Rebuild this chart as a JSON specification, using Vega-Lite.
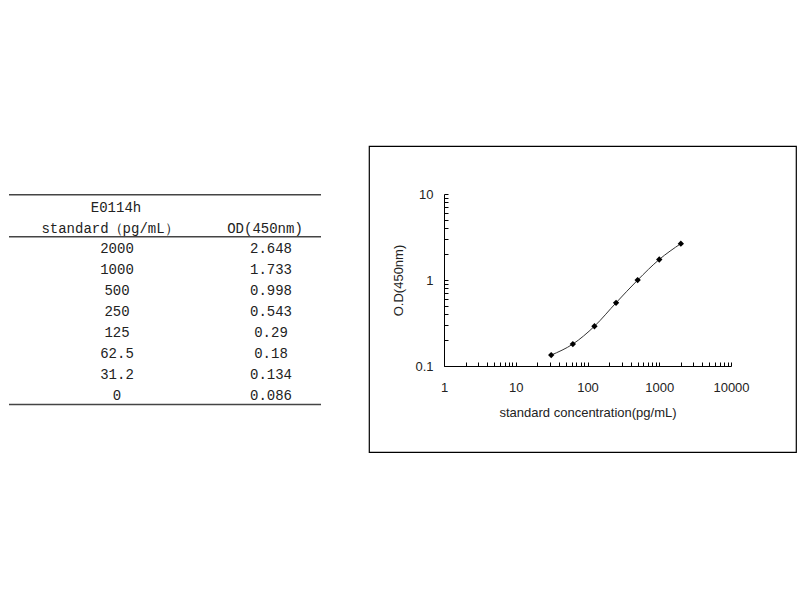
{
  "$schema": "https://vega.github.io/schema/vega-lite/v6.json",
  "padding": {"left": 8, "top": 145, "right": 0, "bottom": 0},
  "background": "white",
  "spacing": 46,
  "config": {
    "view": {"stroke": null},
    "font": "Liberation Sans"
  },
  "datasets": {
    "standards": [
      {"std_label": "2000", "od_label": "2.648", "standard": 2000, "od": 2.648},
      {"std_label": "1000", "od_label": "1.733", "standard": 1000, "od": 1.733},
      {"std_label": "500", "od_label": "0.998", "standard": 500, "od": 0.998},
      {"std_label": "250", "od_label": "0.543", "standard": 250, "od": 0.543},
      {"std_label": "125", "od_label": "0.29", "standard": 125, "od": 0.29},
      {"std_label": "62.5", "od_label": "0.18", "standard": 62.5, "od": 0.18},
      {"std_label": "31.2", "od_label": "0.134", "standard": 31.2, "od": 0.134},
      {"std_label": "0", "od_label": "0.086", "standard": 0, "od": 0.086}
    ]
  },
  "hconcat": [
    {
      "width": 312,
      "height": 306,
      "data": {"name": "standards"},
      "transform": [
        {"window": [{"op": "row_number", "as": "row"}]}
      ],
      "encoding": {
        "y": {
          "field": "row",
          "type": "quantitative",
          "scale": {"domain": [-3.881, 10.662], "reverse": true, "zero": false, "nice": false},
          "axis": null
        }
      },
      "layer": [
        {
          "mark": {"type": "text", "font": "Liberation Mono", "fontSize": 14, "color": "#222", "baseline": "middle"},
          "encoding": {
            "x": {"datum": "c1", "type": "nominal", "scale": {"type": "point", "domain": ["c1", "c2"], "range": [108, 262], "padding": 0}, "axis": null},
            "text": {"field": "std_label"}
          }
        },
        {
          "mark": {"type": "text", "font": "Liberation Mono", "fontSize": 14, "color": "#222", "baseline": "middle"},
          "encoding": {
            "x": {"datum": "c2", "type": "nominal"},
            "text": {"field": "od_label"}
          }
        },
        {
          "transform": [{"filter": "datum.row == 1"}],
          "mark": {"type": "text", "font": "Liberation Mono", "fontSize": 14, "color": "#222", "baseline": "middle", "text": "E0114h", "dx": -1},
          "encoding": {
            "x": {"datum": "c1", "type": "nominal"},
            "y": {"datum": -0.95, "type": "quantitative"}
          }
        },
        {
          "transform": [{"filter": "datum.row == 1"}],
          "mark": {"type": "text", "font": "Liberation Mono", "fontSize": 14, "color": "#222", "baseline": "middle", "text": "standard（pg/mL）", "dx": -7},
          "encoding": {
            "x": {"datum": "c1", "type": "nominal"},
            "y": {"datum": 0.05, "type": "quantitative"}
          }
        },
        {
          "transform": [{"filter": "datum.row == 1"}],
          "mark": {"type": "text", "font": "Liberation Mono", "fontSize": 14, "color": "#222", "baseline": "middle", "text": "OD(450nm)", "dx": -6},
          "encoding": {
            "x": {"datum": "c2", "type": "nominal"},
            "y": {"datum": 0.05, "type": "quantitative"}
          }
        },
        {
          "transform": [{"filter": "datum.row == 1"}],
          "mark": {"type": "rule", "color": "#444", "strokeWidth": 1.5},
          "encoding": {"y": {"datum": -1.56, "type": "quantitative"}}
        },
        {
          "transform": [{"filter": "datum.row == 1"}],
          "mark": {"type": "rule", "color": "#444", "strokeWidth": 1.5},
          "encoding": {"y": {"datum": 0.43, "type": "quantitative"}}
        },
        {
          "transform": [{"filter": "datum.row == 1"}],
          "mark": {"type": "rule", "color": "#444", "strokeWidth": 1.5},
          "encoding": {"y": {"datum": 8.41, "type": "quantitative"}}
        }
      ]
    },
    {
      "width": 427,
      "height": 306,
      "view": {"stroke": "#000", "strokeWidth": 1.2},
      "data": {"name": "standards"},
      "transform": [{"filter": "datum.standard > 0"}],
      "encoding": {
        "x": {
          "field": "standard",
          "type": "quantitative",
          "scale": {"type": "log", "domain": [1, 10000], "range": [75, 362], "nice": false},
          "axis": {
            "orient": "bottom",
            "offset": -86,
            "values": [1, 2, 3, 4, 5, 6, 7, 8, 9, 10, 20, 30, 40, 50, 60, 70, 80, 90, 100, 200, 300, 400, 500, 600, 700, 800, 900, 1000, 2000, 3000, 4000, 5000, 6000, 7000, 8000, 9000, 10000],
            "labelExpr": "indexof([1, 10, 100, 1000, 10000], datum.value) >= 0 ? format(datum.value, 'd') : ''",
            "labelOverlap": false,
            "labelFlush": false,
            "labelFontSize": 13,
            "labelColor": "#222",
            "labelPadding": 19,
            "tickSize": -4,
            "tickColor": "#000",
            "domainColor": "#000",
            "grid": false,
            "title": "standard concentration(pg/mL)",
            "titleFontSize": 13,
            "titleFontWeight": "normal",
            "titleColor": "#222",
            "titlePadding": 12
          }
        },
        "y": {
          "field": "od",
          "type": "quantitative",
          "scale": {"type": "log", "domain": [0.1, 10], "range": [220, 48], "nice": false},
          "axis": {
            "orient": "left",
            "offset": -75,
            "values": [0.1, 0.2, 0.3, 0.4, 0.5, 0.6, 0.7, 0.8, 0.9, 1, 2, 3, 4, 5, 6, 7, 8, 9, 10],
            "labelExpr": "datum.value == 0.1 ? '0.1' : datum.value == 1 ? '1' : datum.value == 10 ? '10' : ''",
            "labelOverlap": false,
            "labelFlush": false,
            "labelFontSize": 13,
            "labelColor": "#222",
            "labelPadding": 15,
            "tickSize": -4,
            "tickColor": "#000",
            "domainColor": "#000",
            "grid": false,
            "title": "O.D(450nm)",
            "titleFontSize": 13,
            "titleFontWeight": "normal",
            "titleColor": "#222",
            "titlePadding": 9
          }
        }
      },
      "layer": [
        {
          "mark": {"type": "line", "interpolate": "monotone", "color": "#333", "strokeWidth": 1}
        },
        {
          "mark": {"type": "point", "shape": "diamond", "filled": true, "size": 40, "color": "#000", "opacity": 1}
        }
      ]
    }
  ]
}
